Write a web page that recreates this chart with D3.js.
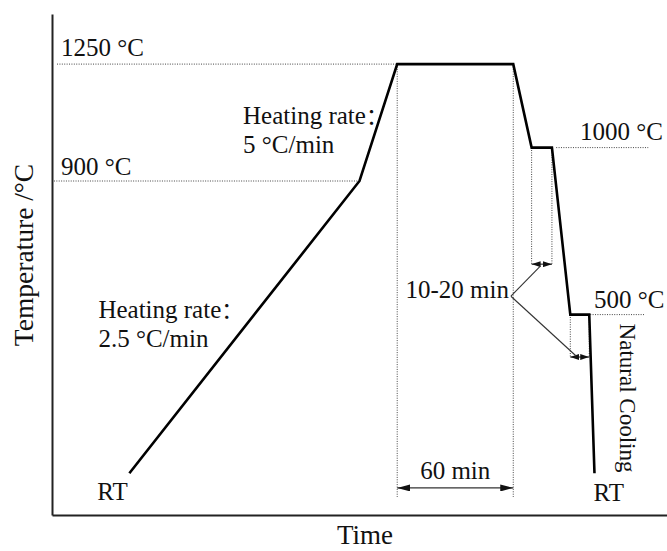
<!DOCTYPE html>
<html>
<head>
<meta charset="utf-8">
<script src="https://cdn.jsdelivr.net/npm/d3@7"></script>
<style>
  body { margin: 0; background: #fff; }
  text { font-family: "Liberation Serif", "Times New Roman", serif; fill: #111; }
</style>
</head>
<body>
<div id="chart"></div>
<script>
// heat treatment schedule (schematic time units, 1 unit ~ 1 min of the hold)
const stageTime = [40, 159, 178.5, 238.5, 248, 258.5, 268, 277.8, 280.5];
const stageTemp = [25, 900, 1250, 1250, 1000, 1000, 500, 500, 25];

// reference levels: temperature, guide start, guide end
const levelTemp = [1250, 900, 1000, 500];
const levelLabel = ["1250 °C", "900 °C", "1000 °C", "500 °C"];
const levelFrom = [2.6, 1, 260.7, 278.3];
const levelTo = [178.5, 159, 308.3, 306.8];

// hold intervals: start, end, temperature, lowest point of the dotted marks, arrow level
const holdStart = [178.5, 248, 268];
const holdEnd = [238.5, 258.5, 277.8];
const holdTemp = [1250, 1000, 500];
const holdBottom = [-46, 651, 373];
const holdArrow = [-19, 651, 373];
const holdLabel = ["60 min", "10-20 min", "10-20 min"];

const xDomain = [0, 318];
const yDomain = [-100, 1400];

const width = 667, height = 551;
const margin = { top: 14, right: 0, bottom: 36, left: 52 };

const svg = d3.select("#chart").append("svg")
  .attr("width", width)
  .attr("height", height);

const x = d3.scaleLinear().domain(xDomain).range([margin.left, width - margin.right]);
const y = d3.scaleLinear().domain(yDomain).range([height - margin.bottom, margin.top]);

// arrow heads
const defs = svg.append("defs");
function addMarker(id, len, wid) {
  defs.append("marker")
    .attr("id", id)
    .attr("viewBox", `0 0 ${len} ${wid}`)
    .attr("refX", len)
    .attr("refY", wid / 2)
    .attr("markerUnits", "userSpaceOnUse")
    .attr("markerWidth", len)
    .attr("markerHeight", wid)
    .attr("orient", "auto-start-reverse")
    .append("path")
    .attr("d", `M0,0L${len},${wid / 2}L0,${wid}Z`)
    .attr("fill", "#111");
}
addMarker("arrowBig", 13, 7);
addMarker("arrowSmall", 9, 6);

// axes without ticks
svg.append("g")
  .attr("transform", `translate(0,${y(yDomain[0])})`)
  .call(d3.axisBottom(x).tickValues([]).tickSizeOuter(0))
  .select(".domain").attr("stroke", "#222").attr("stroke-width", 2);

svg.append("g")
  .attr("transform", `translate(${x(xDomain[0])},0)`)
  .call(d3.axisLeft(y).tickValues([]).tickSizeOuter(0))
  .select(".domain").attr("stroke", "#222").attr("stroke-width", 2);

const dotted = { stroke: "#444", width: 1, dash: "1,1.4" };

// horizontal guides
svg.append("g").selectAll("line")
  .data(levelTemp)
  .join("line")
  .attr("x1", (d, i) => x(levelFrom[i]))
  .attr("x2", (d, i) => x(levelTo[i]))
  .attr("y1", d => y(d))
  .attr("y2", d => y(d))
  .attr("stroke", dotted.stroke)
  .attr("stroke-width", dotted.width)
  .attr("stroke-dasharray", dotted.dash);

// vertical guides at hold boundaries
const holdG = svg.append("g");
holdTemp.forEach((T, i) => {
  [holdStart[i], holdEnd[i]].forEach(t => {
    holdG.append("line")
      .attr("x1", x(t)).attr("x2", x(t))
      .attr("y1", y(T)).attr("y2", y(holdBottom[i]))
      .attr("stroke", dotted.stroke)
      .attr("stroke-width", dotted.width)
      .attr("stroke-dasharray", dotted.dash);
  });
  holdG.append("line")
    .attr("x1", x(holdStart[i])).attr("x2", x(holdEnd[i]))
    .attr("y1", y(holdArrow[i])).attr("y2", y(holdArrow[i]))
    .attr("stroke", "#333")
    .attr("stroke-width", 1.2)
    .attr("marker-start", i === 0 ? "url(#arrowBig)" : "url(#arrowSmall)")
    .attr("marker-end", i === 0 ? "url(#arrowBig)" : "url(#arrowSmall)");
});

// the schedule itself
const line = d3.line()
  .x((d, i) => x(stageTime[i]))
  .y(d => y(d));

svg.append("path")
  .datum(stageTemp)
  .attr("d", line)
  .attr("fill", "none")
  .attr("stroke", "#000")
  .attr("stroke-width", 2.6)
  .attr("stroke-linejoin", "miter");

// leader lines from the "10-20 min" label to the short holds
const leaderT = 237.3, leaderTemp = 555;
[[252.5, 645], [271, 376]].forEach(p => {
  svg.append("line")
    .attr("x1", x(leaderT)).attr("y1", y(leaderTemp))
    .attr("x2", x(p[0])).attr("y2", y(p[1]))
    .attr("stroke", "#333")
    .attr("stroke-width", 1.1);
});

// text
const fs = 25;
function label(txt, px, py, opts = {}) {
  return svg.append("text")
    .attr("x", px)
    .attr("y", py)
    .attr("font-size", opts.size || fs)
    .attr("text-anchor", opts.anchor || "start")
    .text(txt);
}

// heading with a full-width colon kept tight to the word
function rateLabel(px, py) {
  const t = svg.append("text")
    .attr("x", px)
    .attr("y", py)
    .attr("font-size", fs);
  t.append("tspan").text("Heating rate");
  t.append("tspan")
    .attr("font-family", "'Noto Sans CJK SC'")
    .attr("font-size", 22)
    .text("：");
}

// level labels
label(levelLabel[0], x(4.7), y(levelTemp[0]) - 8);
label(levelLabel[1], x(4.7), y(levelTemp[1]) - 6);
label(levelLabel[2], x(273), y(levelTemp[2]) - 8);
label(levelLabel[3], x(280.3), y(levelTemp[3]) - 7);

// heating rates
rateLabel(x(98.8), y(1072));
label("5 °C/min", x(98.8), y(985));
rateLabel(x(24), y(490));
label("2.5 °C/min", x(24), y(403));

// room temperature marks
label("RT", x(stageTime[0]) - 32, y(stageTemp[0]) + 27);
label("RT", x(stageTime[8]) - 1, y(stageTemp[8]) + 28);

// hold durations
label(holdLabel[0], (x(holdStart[0]) + x(holdEnd[0])) / 2, y(holdArrow[0]) - 9, { anchor: "middle" });
label(holdLabel[1], x(leaderT) - 2, y(leaderTemp) + 2, { anchor: "end" });

// natural cooling, vertical
svg.append("text")
  .attr("transform", `translate(${x(293.5)},${y(stageTemp[7]) + 9}) rotate(90)`)
  .attr("font-size", 23)
  .text("Natural Cooling");

// axis titles
svg.append("text")
  .attr("transform", `translate(33,255) rotate(-90)`)
  .attr("font-size", 27.5)
  .attr("text-anchor", "middle")
  .text("Temperature /°C");

svg.append("text")
  .attr("x", 365)
  .attr("y", 544)
  .attr("font-size", 27)
  .attr("text-anchor", "middle")
  .text("Time");
</script>
</body>
</html>
